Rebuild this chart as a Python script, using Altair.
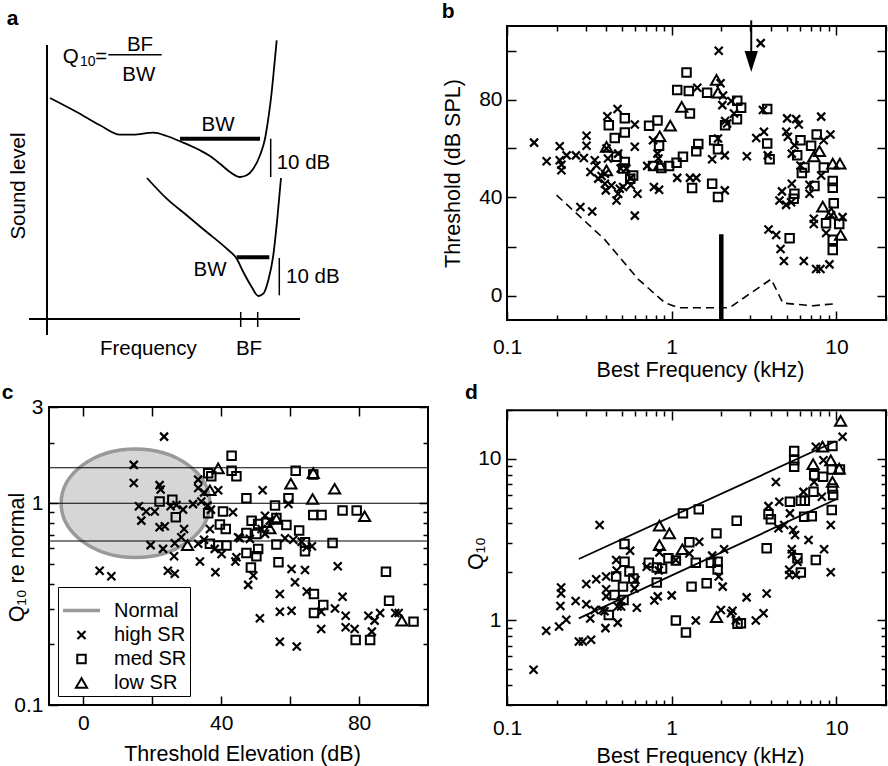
import altair as alt
import pandas as pd

FONT = "Liberation Sans"
FS = 20
LABEL_FS = 21
TITLE_FS = 21.5
MAJ, MIN = 9, 5
X_SHAPE = "M-1,-1L1,1M-1,1L1,-1"
ELLIPSE_SHAPE = "M-1,0A1,0.731,0,1,0,1,0A1,0.731,0,1,0,-1,0Z"
ARROW_SHAPE = "M-1,-1.58L1,-1.58L0,1.58Z"
SIZE_X, SIZE_SQ, SIZE_TRI = 64, 72, 125
SW_X, SW_OPEN = 2.2, 2.0

# ---------------- panel a: schematic tuning curves (arbitrary units) ----------------
A_UPPER_F = [3, 29.7, 53, 73, 86.3, 106.3, 119.7, 134.7, 153, 163, 173, 183, 193,
             199.7, 206.3, 213, 218, 221.3, 224.7, 227, 229.7]
A_UPPER_L = [221, 207, 193.7, 184.3, 184.3, 186.3, 183, 177, 168.7, 163, 155.3, 147, 142,
             143.7, 150.3, 163.7, 180.3, 200.3, 227, 250.3, 278.7]
A_LOWER_F = [100, 119.7, 139.7, 159.7, 179.7, 189.7, 196.3, 204.7, 211.3, 216.3, 221.3,
             226.3, 230.3, 234]
A_LOWER_L = [141, 120.3, 103.7, 87, 70.3, 60.3, 47, 32, 23, 25.3, 38.7, 63.7, 100.3, 141]
# straight segments: (f1, f2, l1, l2, width)
A_SEGMENTS = [
    (0, 0, 274, -16, 2),            # level axis
    (-18, 253, 0, 0, 2),            # frequency axis
    (193.7, 193.7, 7, -8, 1.5),     # BF tick (upper curve)
    (210.7, 210.7, 7, -8, 1.5),     # BF tick (lower curve)
    (133, 213, 180.3, 180.3, 4),    # BW, upper curve
    (189.7, 222.3, 61.7, 61.7, 4),  # BW, lower curve
    (223.7, 223.7, 180.3, 142, 1.5),  # 10 dB bracket, upper
    (232.3, 232.3, 61, 23.7, 1.5),    # 10 dB bracket, lower
    (61.3, 114.7, 264.3, 264.3, 1.5),  # fraction bar
]
A_TEXT_CENTER = [("Q", 23.8, 262, 20.5), ("10", 40.8, 257, 14), ("=", 54.3, 262, 20.5),
                 ("BF", 93, 274.5, 20.5), ("BW", 91.8, 244.5, 20.5), ("BW", 171, 194, 20.5),
                 ("BW", 163, 49, 20.5), ("Frequency", 101.3, -30, 20.5), ("BF", 202, -30, 20.5)]
A_TEXT_LEFT = [("10 dB", 229.7, 156, 20.5), ("10 dB", 239, 42, 20.5)]
A_TEXT_ROT = [("Sound level", -27.8, 133, 20.5)]

# ---------------- panel b: threshold vs best frequency ----------------
B_HIGH = [(0.146, 62.4), (0.174, 54.8), (0.209, 60.9), (0.209, 55.2), (0.214, 53.4), (0.214, 51.1),
          (0.230, 57.2), (0.262, 57.2), (0.293, 56.1), (0.304, 65.2), (0.304, 61.1), (0.279, 36.1),
          (0.329, 34.3), (0.321, 50.4), (0.341, 55.2), (0.349, 53.1), (0.358, 47.7), (0.375, 48.8),
          (0.393, 49.7), (0.393, 45.6), (0.398, 42.9), (0.407, 73.2), (0.469, 76.1), (0.402, 60.0),
          (0.41, 55.9), (0.431, 44.9), (0.462, 38.8), (0.473, 41.5), (0.484, 43.6), (0.49, 51.8),
          (0.507, 44.3), (0.473, 57.9), (0.531, 51.8), (0.565, 48.0), (0.565, 45.0), (0.597, 69.8),
          (0.597, 60.7), (0.597, 32.6), (0.62, 41.5), (0.77, 63.4), (0.78, 44.3), (0.838, 43.2),
          (0.82, 57.9), (0.83, 55.9), (0.71, 52.9), (1.08, 48.0), (1.29, 48.0), (1.41, 48.0),
          (1.43, 84.8), (1.93, 99.9), (3.47, 103), (1.98, 86.6), (2.05, 81.6), (2.03, 77.7),
          (2.3, 79.4), (2.39, 74.3), (2.11, 71.2), (2.17, 70.2), (1.91, 64.1), (2.1, 57.2),
          (1.76, 55.6), (2.1, 42.9), (2.86, 56.8), (3.26, 64.3), (3.63, 66.8), (3.58, 75.7),
          (3.83, 57.2), (4.67, 42.5), (4.51, 38.8), (4.95, 37.0), (5.31, 38.1), (5.36, 45.6),
          (5.02, 72.3), (5.7, 72.0), (5.91, 69.8), (4.96, 66.8), (5.07, 64.8), (5.36, 57.9),
          (5.56, 61.3), (6.05, 53.1), (8.08, 73.0), (9.2, 65.7), (8.37, 63.4), (8.08, 49.0),
          (6.86, 45.2), (6.86, 41.5), (7.29, 31.3), (7.29, 29.2), (8.66, 25.5), (10.9, 32.0),
          (3.87, 26.9), (4.31, 24.7), (4.58, 19.0), (4.8, 14.1), (6.34, 14.1), (7.53, 10.8),
          (8.0, 10.8), (9.07, 12.7), (9.29, 32.7)]
B_MED = [(1.23, 91.0), (1.08, 83.9), (1.27, 83.5), (1.29, 74.3), (0.415, 69.5), (0.519, 72.3),
         (0.451, 64.3), (0.519, 66.5), (0.729, 69.3), (0.82, 71.4), (0.838, 61.1), (0.462, 56.6),
         (0.519, 54.5), (0.507, 51.8), (0.56, 47.7), (0.583, 49.0), (0.77, 52.9), (0.865, 52.0),
         (0.964, 52.9), (1.07, 54.2), (1.17, 56.6), (1.33, 43.9), (1.41, 58.9), (1.64, 82.8),
         (2.5, 79.5), (2.64, 76.6), (2.49, 71.9), (2.11, 69.5), (1.81, 63.4), (1.91, 59.7),
         (1.45, 61.8), (1.76, 45.6), (1.91, 40.2), (3.8, 76.1), (3.8, 62.0), (3.93, 55.6),
         (6.05, 63.4), (7.02, 61.1), (7.59, 65.7), (5.78, 57.2), (6.4, 52.2), (6.17, 50.0),
         (8.38, 52.2), (7.36, 44.7), (9.5, 46.7), (9.5, 44.0), (5.56, 41.5), (5.5, 39.5),
         (9.63, 37.7), (8.65, 29.5), (10.4, 29.2), (9.5, 22.8), (9.5, 18.6), (5.2, 23.4)]
B_LOW = [(1.15, 77.0), (0.98, 69.3), (0.846, 65.0), (0.402, 60.7), (0.402, 51.1), (0.846, 53.3),
         (1.87, 88.0), (1.91, 82.8), (7.89, 58.9), (7.3, 56.8), (9.5, 53.8), (10.5, 53.8),
         (8.26, 36.3), (9.3, 33.7), (10.6, 24.7)]
B_AUDIOGRAM_F = [0.2, 0.39, 0.625, 0.91, 1.1, 2.0, 2.24, 4.02, 4.73, 7.2, 10.0]
B_AUDIOGRAM_DB = [41, 23, 6.7, -3, -5, -5, -5, 6.7, -3.1, -4.2, -3.3]
B_LESION = (2.0, -10, 25)        # frequency, bottom, top
B_ARROW = (3.04, 112.3, 99.5, 95.5)  # frequency, line top, line end, head centre

# ---------------- panel c: Q10 re normal vs threshold elevation ----------------
C_HIGH = [(23.4, 2.14), (14.6, 1.55), (14.6, 1.26), (22.1, 1.23), (22.4, 1.17), (16.1, 0.966),
          (18.2, 0.91), (20.7, 0.91), (16.8, 0.82), (22.1, 0.76), (23.6, 0.77), (19.5, 0.62),
          (23.1, 0.594), (25.3, 0.966), (27.0, 0.98), (28.9, 0.93), (29.2, 0.746), (28.4, 0.678),
          (26.5, 0.634), (26.3, 0.546), (33.8, 0.514), (33.3, 1.31), (33.3, 1.19), (35.0, 1.13),
          (39.1, 1.16), (36.0, 0.974), (37.0, 0.93), (31.8, 0.99), (34.2, 1.02), (36.7, 0.746),
          (35.0, 0.66), (33.3, 0.63), (24.5, 0.463), (26.5, 0.447), (4.7, 0.463), (8.1, 0.435),
          (38.3, 0.455), (38.1, 0.594), (40.1, 0.56), (44.1, 0.514), (43.4, 0.902), (44.4, 0.54),
          (52.0, 1.16), (59.5, 0.992), (44.9, 0.678), (47.8, 0.394), (49.3, 0.438), (57.0, 0.355),
          (60.4, 0.472), (64.3, 0.467), (61.4, 0.406), (57.0, 0.29), (60.4, 0.293), (51.2, 0.269),
          (57.0, 0.206), (61.9, 0.195), (64.8, 0.365), (69.0, 0.29), (69.0, 0.238), (73.0, 0.301),
          (75.2, 0.344), (76.1, 0.277), (76.1, 0.243), (78.7, 0.238), (73.8, 0.487), (82.7, 0.277),
          (84.5, 0.262), (83.7, 0.231), (86.1, 0.286), (90.5, 0.286), (91.5, 0.286), (58.5, 0.67),
          (60.9, 0.66), (63.3, 0.645), (64.8, 0.605), (66.3, 0.612), (52.7, 0.868), (54.1, 0.82),
          (51.7, 0.746), (48.3, 0.666), (45.4, 0.67), (52.7, 0.705)]
C_MED = [(22.1, 1.02), (25.8, 1.04), (26.8, 0.853), (36.2, 1.41), (37.1, 1.36), (36.2, 0.892),
         (40.5, 0.91), (39.6, 0.784), (41.3, 0.746), (43.0, 1.72), (43.0, 1.45), (44.4, 1.36),
         (36.7, 0.63), (39.1, 0.617), (41.5, 0.617), (61.6, 1.45), (66.7, 1.39), (59.5, 1.06),
         (47.3, 1.06), (55.6, 0.974), (66.7, 0.875), (69.1, 0.875), (75.2, 0.92), (79.3, 0.92),
         (48.8, 0.82), (50.7, 0.79), (53.1, 0.8), (56.0, 0.846), (58.9, 0.78), (47.3, 0.713),
         (50.2, 0.705), (56.0, 0.624), (62.6, 0.732), (64.3, 0.64), (64.3, 0.578), (72.3, 0.636),
         (50.7, 0.594), (47.3, 0.567), (50.2, 0.546), (48.6, 0.48), (56.6, 0.51), (87.8, 0.458),
         (88.7, 0.329), (66.9, 0.355), (69.6, 0.313), (66.9, 0.286), (79.0, 0.21), (83.2, 0.21),
         (95.8, 0.259)]
C_LOW = [(39.1, 1.49), (36.7, 1.16), (30.2, 0.62), (66.7, 1.41), (60.2, 1.25), (72.9, 1.18),
         (66.5, 1.05), (81.6, 0.862), (54.1, 0.75), (92.4, 0.262), (56.0, 0.836)]
C_REF_LINES = [1.5, 1.0, 0.65]
C_NORMAL_CENTER = (15.1, 1.0)
C_GROUPS = ["Normal", "high SR", "med SR", "low SR"]

# ---------------- panel d: Q10 vs best frequency ----------------
D_HIGH = [(0.145, 0.496), (0.173, 0.863), (0.207, 0.918), (0.213, 1.6), (0.213, 1.47), (0.211, 1.23),
          (0.229, 1.01), (0.261, 1.32), (0.273, 0.742), (0.289, 0.742), (0.324, 0.76), (0.303, 1.68),
          (0.303, 1.26), (0.32, 1.03), (0.348, 1.8), (0.34, 1.16), (0.365, 3.9), (0.4, 1.87),
          (0.4, 1.56), (0.4, 1.41), (0.391, 1.14), (0.396, 0.897), (0.38, 1.16), (0.46, 2.37),
          (0.463, 2.04), (0.47, 1.22), (0.47, 0.97), (0.493, 1.32), (0.493, 1.22), (0.559, 2.7),
          (0.603, 1.78), (0.595, 1.58), (0.614, 1.2), (0.705, 2.15), (0.785, 1.33), (0.823, 1.41),
          (0.834, 2.04), (0.842, 2.64), (1.0, 1.43), (1.06, 2.37), (1.28, 2.6), (1.47, 3.07),
          (1.4, 1.0), (1.76, 2.52), (1.93, 1.87), (2.04, 1.62), (1.99, 1.16), (2.08, 2.76),
          (2.34, 1.15), (2.29, 1.11), (2.45, 1.0), (2.85, 1.39), (3.24, 1.0), (3.61, 1.11),
          (3.77, 1.47), (3.87, 5.1), (4.29, 7.2), (4.5, 5.43), (4.45, 3.72), (4.82, 3.9),
          (5.22, 4.6), (5.36, 2.76), (5.36, 2.58), (5.17, 1.91), (5.17, 2.06), (5.46, 3.63),
          (5.61, 3.38), (5.67, 1.91), (5.8, 2.31), (6.31, 6.25), (6.77, 3.15), (7.32, 7.2),
          (7.5, 11.9), (8.34, 9.8), (8.15, 5.83), (8.42, 2.76), (9.24, 3.9), (9.24, 1.99),
          (10.9, 13.7)]
D_MED = [(0.517, 2.97), (0.517, 2.31), (0.554, 2.01), (0.585, 1.82), (0.46, 1.87), (0.506, 1.62),
         (0.45, 1.44), (0.51, 1.34), (0.415, 1.08), (0.726, 2.28), (0.811, 2.13), (0.811, 1.72),
         (0.874, 2.1), (0.955, 2.43), (1.06, 2.35), (1.17, 4.6), (1.46, 4.87), (1.28, 3.05),
         (1.4, 2.28), (1.32, 1.62), (1.63, 1.7), (1.73, 2.28), (1.9, 2.31), (1.9, 2.07),
         (1.87, 3.46), (2.48, 4.14), (1.06, 1.0), (1.22, 0.843), (2.51, 0.953), (2.63, 0.96),
         (3.77, 2.8), (3.87, 4.55), (4.0, 4.23), (5.22, 5.43), (5.54, 8.93), (5.54, 9.8),
         (5.54, 11.2), (6.08, 5.5), (6.43, 5.5), (6.37, 4.39), (7.09, 4.42), (7.26, 6.25),
         (7.33, 7.93), (8.3, 7.74), (9.46, 12.0), (9.37, 8.6), (9.46, 6.56), (9.55, 5.97),
         (9.37, 4.82), (10.5, 8.6), (5.8, 2.43), (6.08, 1.98), (7.5, 2.37)]
D_LOW = [(0.842, 3.86), (0.968, 3.46), (0.842, 2.93), (1.16, 2.76), (1.87, 1.05), (8.23, 11.9),
         (7.22, 9.27), (9.24, 9.8), (9.46, 7.2), (10.6, 17.2), (10.4, 8.7)]
D_FIT_UPPER = [(0.273, 2.40), (9.9, 12.85)]
D_FIT_LOWER = [(0.273, 1.03), (9.9, 5.61)]

LOG_MINOR_B = [0.2, 0.3, 0.4, 0.5, 0.6, 0.7, 0.8, 0.9, 2, 3, 4, 5, 6, 7, 8, 9, 20]


def axis_kw():
    return dict(grid=False, domain=False, tickColor="black", tickWidth=1.5,
                labelFont=FONT, labelFontSize=LABEL_FS, labelColor="black",
                labelFlush=False, labelOverlap=False,
                titleFont=FONT, titleFontSize=TITLE_FS, titleColor="black",
                titleFontWeight="normal")


def label_expr(vals):
    # plain decimal text for the chosen tick values, blank for the rest
    arr = ",".join(str(v) for v in vals)
    return f"indexof([{arr}], datum.value) >= 0 ? '' + datum.value : ''"


def frame_axes(xs, ys, x_major, x_minor, y_major, y_minor, x_labeled, y_labeled,
               x_title, y_title, x_pad, y_pad, x_title_at, y_title_at, top_gap=0):
    """Four invisible layers carrying inward ticks on all four sides."""
    kw = axis_kw()
    anchor = pd.DataFrame({"gx": [x_major[0]], "gy": [y_major[0]]})
    bottom_major = alt.Axis(orient="bottom", values=x_major, tickSize=MAJ, offset=-MAJ,
                            labelPadding=x_pad, labelExpr=label_expr(x_labeled),
                            title=x_title, titleX=x_title_at[0], titleY=x_title_at[1] + MAJ,
                            titleAlign="center", titleBaseline="middle", titleAngle=0, **kw)
    bottom_minor = alt.Axis(orient="bottom", values=x_minor, tickSize=MIN, offset=-MIN,
                            labels=False, title=None, **kw)
    top_major = alt.Axis(orient="top", values=x_major, tickSize=MAJ, offset=-(MAJ + top_gap),
                         labels=False, title=None, **kw)
    top_minor = alt.Axis(orient="top", values=x_minor, tickSize=MIN, offset=-(MIN + top_gap),
                         labels=False, title=None, **kw)
    left_major = alt.Axis(orient="left", values=y_major, tickSize=MAJ, offset=-MAJ,
                          labelPadding=y_pad, labelExpr=label_expr(y_labeled),
                          title=y_title, titleX=y_title_at[0] - MAJ, titleY=y_title_at[1],
                          titleAlign="center", titleBaseline="middle", titleAngle=270, **kw)
    left_minor = alt.Axis(orient="left", values=y_minor, tickSize=MIN, offset=-MIN,
                          labels=False, title=None, **kw)
    right_major = alt.Axis(orient="right", values=y_major, tickSize=MAJ, offset=-MAJ,
                           labels=False, title=None, **kw)
    right_minor = alt.Axis(orient="right", values=y_minor, tickSize=MIN, offset=-MIN,
                           labels=False, title=None, **kw)
    pairs = [(bottom_major, left_major), (bottom_minor, left_minor),
             (top_major, right_major), (top_minor, right_minor)]
    return [alt.Chart(anchor).mark_point(opacity=0).encode(
        x=alt.X("gx:Q", scale=xs, axis=ax), y=alt.Y("gy:Q", scale=ys, axis=ay))
        for ax, ay in pairs]


def scatter(pairs, xs, ys, shape, size, sw=SW_OPEN):
    df = pd.DataFrame(pairs, columns=["u", "v"])
    return alt.Chart(df).mark_point(shape=shape, size=size, filled=False, color="black",
                                    strokeWidth=sw, opacity=1).encode(
        x=alt.X("u:Q", scale=xs, axis=None), y=alt.Y("v:Q", scale=ys, axis=None))


def letter(ch, px, py):
    return alt.Chart(pd.DataFrame({"t": [ch]})).mark_text(
        font=FONT, fontSize=21, fontWeight="bold", align="left", baseline="alphabetic",
        color="black").encode(text="t:N", x=alt.value(px), y=alt.value(py))


W, H, HC = 379, 294, 298

# ---------------- panel a ----------------
xs_a = alt.Scale(domain=[2, 381], nice=False, zero=False)
ys_a = alt.Scale(domain=[-1, 293], nice=False, zero=False)
curves = pd.concat([
    pd.DataFrame({"f": A_UPPER_F, "l": A_UPPER_L, "c": "upper"}),
    pd.DataFrame({"f": A_LOWER_F, "l": A_LOWER_L, "c": "lower"}),
])
a_curves = alt.Chart(curves).mark_line(color="black", strokeWidth=1.8, interpolate="monotone").encode(
    x=alt.X("f:Q", scale=xs_a, axis=None), y=alt.Y("l:Q", scale=ys_a, axis=None), detail="c:N")
segs = pd.DataFrame(A_SEGMENTS, columns=["f1", "f2", "l1", "l2", "w"])
a_segs = alt.Chart(segs).mark_rule(color="black").encode(
    x=alt.X("f1:Q", scale=xs_a, axis=None), x2="f2:Q",
    y=alt.Y("l1:Q", scale=ys_a, axis=None), y2="l2:Q",
    strokeWidth=alt.StrokeWidth("w:Q", scale=None))


def a_text(rows, **mk):
    df = pd.DataFrame(rows, columns=["t", "f", "l", "fs"])
    return alt.Chart(df).mark_text(font=FONT, color="black", baseline="middle", **mk).encode(
        x=alt.X("f:Q", scale=xs_a, axis=None), y=alt.Y("l:Q", scale=ys_a, axis=None),
        text="t:N", size=alt.Size("fs:Q", scale=None))


panel_a = alt.layer(
    a_curves, a_segs,
    a_text(A_TEXT_CENTER, align="center"),
    a_text(A_TEXT_LEFT, align="left"),
    a_text(A_TEXT_ROT, align="center", angle=270),
    letter("a", -42.3, -1.3),
).properties(width=W, height=H)

# ---------------- panel b ----------------
xs_b = alt.Scale(type="log", domain=[0.1, 20], nice=False)
ys_b = alt.Scale(domain=[-10, 110], nice=False, zero=False)
b_axes = frame_axes(xs_b, ys_b, [0.1, 1, 10], LOG_MINOR_B, [0, 20, 40, 60, 80, 100], [],
                    [0.1, 1, 10], [0, 40, 80], "Best Frequency (kHz)", "Threshold (dB SPL)",
                    16, 5, (193, 50), (-54, 147))
audiogram = pd.DataFrame({"u": B_AUDIOGRAM_F, "v": B_AUDIOGRAM_DB})
b_dash = alt.Chart(audiogram).mark_line(color="black", strokeWidth=1.6, strokeDash=[8, 5]).encode(
    x=alt.X("u:Q", scale=xs_b, axis=None), y=alt.Y("v:Q", scale=ys_b, axis=None))
lesion = pd.DataFrame({"u": [B_LESION[0]], "v1": [B_LESION[1]], "v2": [B_LESION[2]]})
b_lesion = alt.Chart(lesion).mark_rule(color="black", strokeWidth=4.5).encode(
    x=alt.X("u:Q", scale=xs_b, axis=None), y=alt.Y("v1:Q", scale=ys_b, axis=None), y2="v2:Q")
arrow = pd.DataFrame({"u": [B_ARROW[0]], "v1": [B_ARROW[1]], "v2": [B_ARROW[2]], "vh": [B_ARROW[3]]})
b_arrow = alt.Chart(arrow).mark_rule(color="black", strokeWidth=2).encode(
    x=alt.X("u:Q", scale=xs_b, axis=None), y=alt.Y("v1:Q", scale=ys_b, axis=None), y2="v2:Q")
b_head = alt.Chart(arrow).mark_point(shape=ARROW_SHAPE, size=177, filled=True, color="black",
                                     opacity=1).encode(
    x=alt.X("u:Q", scale=xs_b, axis=None), y=alt.Y("vh:Q", scale=ys_b, axis=None))
panel_b = alt.layer(
    *b_axes, b_dash, b_lesion, b_arrow, b_head,
    scatter(B_HIGH, xs_b, ys_b, X_SHAPE, SIZE_X, SW_X),
    scatter(B_MED, xs_b, ys_b, "square", SIZE_SQ),
    scatter(B_LOW, xs_b, ys_b, "triangle-up", SIZE_TRI),
    letter("b", -65.3, -8),
).resolve_axis(x="independent", y="independent").properties(
    width=W, height=H, view=alt.ViewBackground(stroke="black", strokeWidth=2))

# ---------------- panel c ----------------
xs_c = alt.Scale(domain=[-10, 100], nice=False, zero=False)
ys_c = alt.Scale(type="log", domain=[0.1, 3], nice=False)
c_axes = frame_axes(xs_c, ys_c, [0, 20, 40, 60, 80], [], [0.1, 1, 3],
                    [0.2, 0.3, 0.4, 0.5, 0.6, 0.7, 0.8, 0.9, 2],
                    [0, 40, 80], [0.1, 1, 3], "Threshold Elevation (dB)", "Q₁₀ re normal",
                    7, 6, (193, 49), (-31.5, 150))
normal = pd.DataFrame({"u": [C_NORMAL_CENTER[0]], "v": [C_NORMAL_CENTER[1]]})
c_normal = alt.Chart(normal).mark_point(shape=ELLIPSE_SHAPE, size=22100, filled=True,
                                        fill="#d6d6d6", stroke="#999999", strokeWidth=3.5,
                                        opacity=1).encode(
    x=alt.X("u:Q", scale=xs_c, axis=None), y=alt.Y("v:Q", scale=ys_c, axis=None))
c_lines = alt.Chart(pd.DataFrame({"v": C_REF_LINES})).mark_rule(color="black", strokeWidth=1.2).encode(
    y=alt.Y("v:Q", scale=ys_c, axis=None))
c_pts = pd.concat([
    pd.DataFrame(C_HIGH, columns=["u", "v"]).assign(sr="high SR"),
    pd.DataFrame(C_MED, columns=["u", "v"]).assign(sr="med SR"),
    pd.DataFrame(C_LOW, columns=["u", "v"]).assign(sr="low SR"),
])
leg = alt.Legend(title=None, orient="none", legendX=9, legendY=180, direction="vertical",
                 labelFont=FONT, labelFontSize=FS, labelColor="black", labelOffset=12,
                 strokeColor="black", fillColor="white", padding=3, rowPadding=4)
c_scatter = alt.Chart(c_pts).mark_point(filled=False, opacity=1).encode(
    x=alt.X("u:Q", scale=xs_c, axis=None), y=alt.Y("v:Q", scale=ys_c, axis=None),
    shape=alt.Shape("sr:N", scale=alt.Scale(domain=C_GROUPS,
                                            range=["stroke", X_SHAPE, "square", "triangle-up"]),
                    legend=leg),
    stroke=alt.Stroke("sr:N", scale=alt.Scale(domain=C_GROUPS,
                                              range=["#999999", "black", "black", "black"]),
                      legend=leg),
    size=alt.Size("sr:N", scale=alt.Scale(type="ordinal", domain=C_GROUPS,
                                          range=[1369, SIZE_X, SIZE_SQ, SIZE_TRI]), legend=leg),
    strokeWidth=alt.StrokeWidth("sr:N", scale=alt.Scale(type="ordinal", domain=C_GROUPS,
                                                        range=[3.5, SW_X, SW_OPEN, SW_OPEN]),
                                legend=leg),
)
panel_c = alt.layer(
    *c_axes, c_normal, c_lines, c_scatter, letter("c", -47.3, -8.3),
).resolve_axis(x="independent", y="independent").properties(
    width=W, height=HC, view=alt.ViewBackground(stroke="black", strokeWidth=2))

# ---------------- panel d ----------------
xs_d = alt.Scale(type="log", domain=[0.1, 20], nice=False)
ys_d = alt.Scale(type="log", domain=[0.3, 20.94], nice=False)
d_axes = frame_axes(xs_d, ys_d, [0.1, 1, 10], LOG_MINOR_B, [1, 10],
                    [0.3, 0.4, 0.5, 0.6, 0.7, 0.8, 0.9, 2, 3, 4, 5, 6, 7, 8, 9, 20],
                    [0.1, 1, 10], [1, 10], "Best Frequency (kHz)", "Q₁₀",
                    12, 6, (193, 51), (-31, 146), top_gap=4)
d_frame = alt.Chart(pd.DataFrame({"u1": [0.1], "u2": [20], "v1": [0.3], "v2": [20]})).mark_rect(
    fill="transparent", stroke="black", strokeWidth=2).encode(
    x=alt.X("u1:Q", scale=xs_d, axis=None), x2="u2:Q",
    y=alt.Y("v1:Q", scale=ys_d, axis=None), y2="v2:Q")
fits = pd.concat([
    pd.DataFrame(D_FIT_UPPER, columns=["u", "v"]).assign(k="upper"),
    pd.DataFrame(D_FIT_LOWER, columns=["u", "v"]).assign(k="lower"),
])
d_fits = alt.Chart(fits).mark_line(color="black", strokeWidth=1.8).encode(
    x=alt.X("u:Q", scale=xs_d, axis=None), y=alt.Y("v:Q", scale=ys_d, axis=None), detail="k:N")
panel_d = alt.layer(
    *d_axes, d_frame, d_fits,
    scatter(D_HIGH, xs_d, ys_d, X_SHAPE, SIZE_X, SW_X),
    scatter(D_MED, xs_d, ys_d, "square", SIZE_SQ),
    scatter(D_LOW, xs_d, ys_d, "triangle-up", SIZE_TRI),
    letter("d", -42, -8.3),
).resolve_axis(x="independent", y="independent").properties(width=W, height=HC)

chart = alt.concat(
    panel_a, panel_b, panel_c, panel_d, columns=2,
    spacing={"row": 87, "column": 79}, bounds="flush", align="each",
).resolve_scale(
    shape="independent", stroke="independent", size="independent", strokeWidth="independent"
).properties(
    padding={"left": 0, "top": 0, "right": 0, "bottom": 0}
).configure_view(stroke="transparent")

chart.save("out.html", embed_options={"renderer": "svg", "actions": False})
